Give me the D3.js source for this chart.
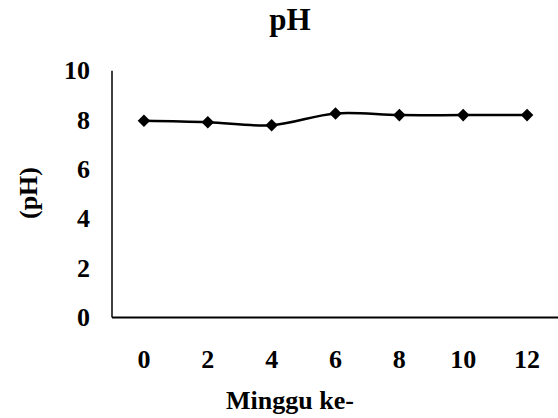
<!DOCTYPE html>
<html>
<head>
<meta charset="utf-8">
<script src="https://cdn.jsdelivr.net/npm/d3@7"></script>
</head>
<body style="margin:0;background:#fff">
<svg id="chart" width="558" height="418"></svg>
<script>
const weeks = ["0", "2", "4", "6", "8", "10", "12"];
const phValues = [7.97, 7.91, 7.79, 8.27, 8.2, 8.2, 8.2];
const yTicks = [0, 2, 4, 6, 8, 10];
const title = "pH";
const xTitle = "Minggu ke-";
const yTitle = "(pH)";

const svg = d3.select("#chart");
const plotLeft = 112, plotRight = 559, plotTop = 70.7, plotBottom = 317.5;

const x = d3.scalePoint().domain(weeks).range([plotLeft, plotRight]).padding(0.5);
const y = d3.scaleLinear().domain([0, 10]).range([plotBottom, plotTop]);

function txt(sel, size) {
  return sel.style("font-family", "'Liberation Serif'").style("font-weight", "bold")
    .style("font-size", size + "px").attr("fill", "#000");
}

// axes lines
svg.append("line").attr("x1", plotLeft).attr("x2", plotLeft).attr("y1", plotTop).attr("y2", plotBottom)
  .attr("stroke", "#000").attr("stroke-width", 1.5);
svg.append("line").attr("x1", plotLeft).attr("x2", 558).attr("y1", plotBottom).attr("y2", plotBottom)
  .attr("stroke", "#000").attr("stroke-width", 1.8);

// y tick labels
txt(svg.selectAll(".ytl").data(yTicks).enter().append("text")
  .attr("x", 90).attr("y", d => y(d) + 8.5)
  .attr("text-anchor", "end")
  .text(d => d), 26);

// x tick labels
txt(svg.selectAll(".xtl").data(weeks).enter().append("text")
  .attr("x", d => x(d)).attr("y", 368)
  .attr("text-anchor", "middle")
  .text(d => d), 26);

// line
const line = d3.line().x((d, i) => x(weeks[i])).y(d => y(d)).curve(d3.curveCatmullRom.alpha(0.5));
svg.append("path").datum(phValues).attr("d", line)
  .attr("fill", "none").attr("stroke", "#000").attr("stroke-width", 2.5);

// markers
const sym = d3.symbol().type(d3.symbolDiamond2).size(100);
svg.selectAll(".mk").data(phValues).enter().append("path")
  .attr("d", sym)
  .attr("transform", (d, i) => `translate(${x(weeks[i])},${y(d)})`)
  .attr("fill", "#000");

// titles
txt(svg.append("text").attr("x", 290).attr("y", 30).attr("text-anchor", "middle").text(title), 31);
txt(svg.append("text").attr("x", 290).attr("y", 409).attr("text-anchor", "middle").text(xTitle), 26);
txt(svg.append("text").attr("transform", "translate(37,193) rotate(-90)")
  .attr("text-anchor", "middle").text(yTitle), 26);
</script>
</body>
</html>
